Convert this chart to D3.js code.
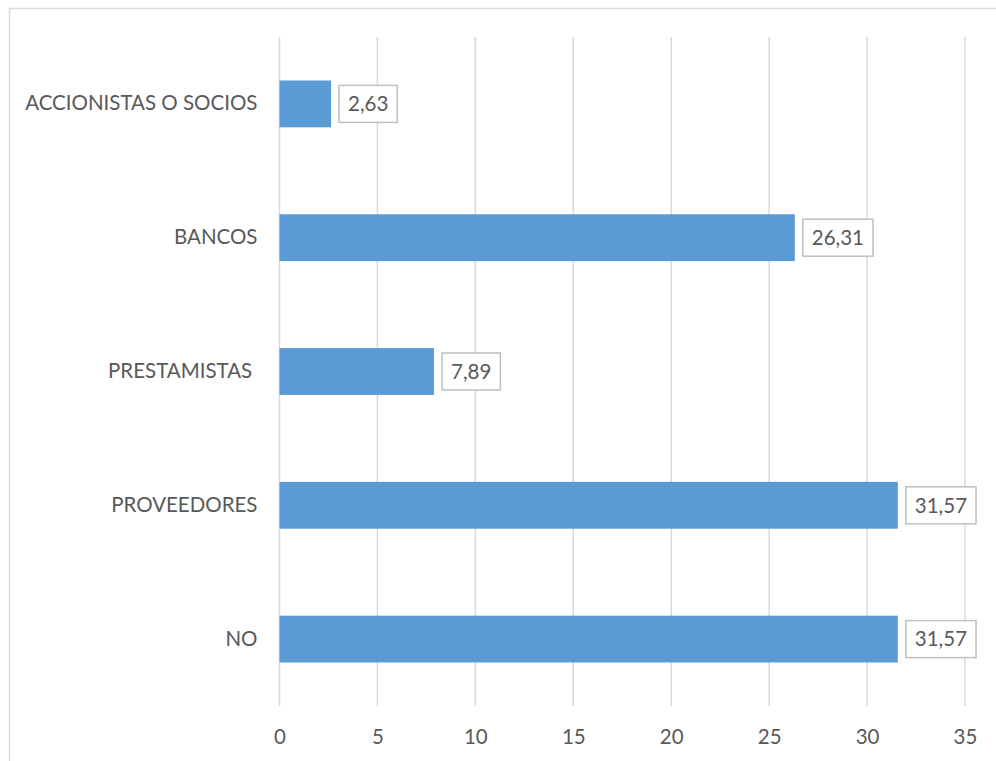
<!DOCTYPE html>
<html>
<head>
<meta charset="utf-8">
<script src="https://cdn.jsdelivr.net/npm/d3@7"></script>
<style>
  body { margin: 0; background: #fff; }
  text { font-family: Lato, "Open Sans", sans-serif; fill: #595959; }
</style>
</head>
<body>
<script>
var categories = ["ACCIONISTAS O SOCIOS", "BANCOS", "PRESTAMISTAS ", "PROVEEDORES", "NO"];
var values = [2.63, 26.31, 7.89, 31.57, 31.57];
var labels = ["2,63", "26,31", "7,89", "31,57", "31,57"];
var ticks = [0, 5, 10, 15, 20, 25, 30, 35];

var data = categories.map((c, i) => ({cat: c, val: values[i], lab: labels[i]}));

var fs = 20.5;

var svg = d3.select("body").append("svg")
    .attr("width", 996)
    .attr("height", 761);

// chart area border
svg.append("rect")
    .attr("x", 9.5).attr("y", 8.5)
    .attr("width", 1000).attr("height", 800)
    .attr("fill", "none")
    .attr("stroke", "#d9d9d9")
    .attr("stroke-width", 1.5);

var scalex = d3.scaleLinear()
    .domain([0, 35])
    .range([279.5, 965]);

var scaley = d3.scaleBand()
    .domain(categories)
    .range([37, 706])
    .paddingInner(0.65)
    .paddingOuter(0.325);

// gridlines
svg.append("g")
  .selectAll("line")
  .data(ticks)
  .enter()
  .append("line")
    .attr("x1", d => scalex(d))
    .attr("x2", d => scalex(d))
    .attr("y1", 37)
    .attr("y2", 706)
    .attr("stroke", "#d9d9d9")
    .attr("stroke-width", 1.5);

var x_axis = d3.axisBottom(scalex)
    .tickValues(ticks)
    .tickSize(0)
    .tickPadding(0)
    .tickFormat(d => d);

svg.append("g")
    .attr("class", "x-axis")
    .attr("transform", "translate(0, 728)")
    .call(x_axis)
    .call(g => g.select(".domain").remove())
    .selectAll("text")
    .attr("font-size", fs)
    .attr("dy", "0.8em")
    .style("font-family", "Lato, 'Open Sans', sans-serif")
    .style("fill", "#595959");

var y_axis = d3.axisLeft(scaley)
    .tickSize(0)
    .tickPadding(22);

svg.append("g")
    .attr("class", "y-axis")
    .attr("transform", "translate(279.5, 0)")
    .call(y_axis)
    .call(g => g.select(".domain").remove())
    .selectAll("text")
    .attr("font-size", fs)
    .style("white-space", "pre")
    .style("font-family", "Lato, 'Open Sans', sans-serif")
    .style("fill", "#595959");

// bars
svg.append("g")
  .selectAll("rect")
  .data(data)
  .enter()
  .append("rect")
    .attr("x", scalex(0))
    .attr("y", d => scaley(d.cat))
    .attr("width", d => scalex(d.val) - scalex(0))
    .attr("height", scaley.bandwidth())
    .attr("fill", "#5b9bd5");

// value labels with boxes
var lab = svg.append("g")
  .selectAll("g")
  .data(data)
  .enter()
  .append("g")
    .attr("transform", d => `translate(${scalex(d.val) + 8}, ${scaley(d.cat) + scaley.bandwidth() / 2})`);

lab.append("text")
    .attr("x", 9)
    .attr("dy", "0.36em")
    .attr("font-size", fs)
    .text(d => d.lab);

lab.each(function() {
  var g = d3.select(this);
  var w = g.select("text").node().getComputedTextLength();
  g.insert("rect", "text")
    .attr("x", 0)
    .attr("y", -18.5)
    .attr("width", w + 18)
    .attr("height", 37)
    .attr("fill", "#fff")
    .attr("stroke", "#bfbfbf")
    .attr("stroke-width", 1.5);
});
</script>
</body>
</html>
